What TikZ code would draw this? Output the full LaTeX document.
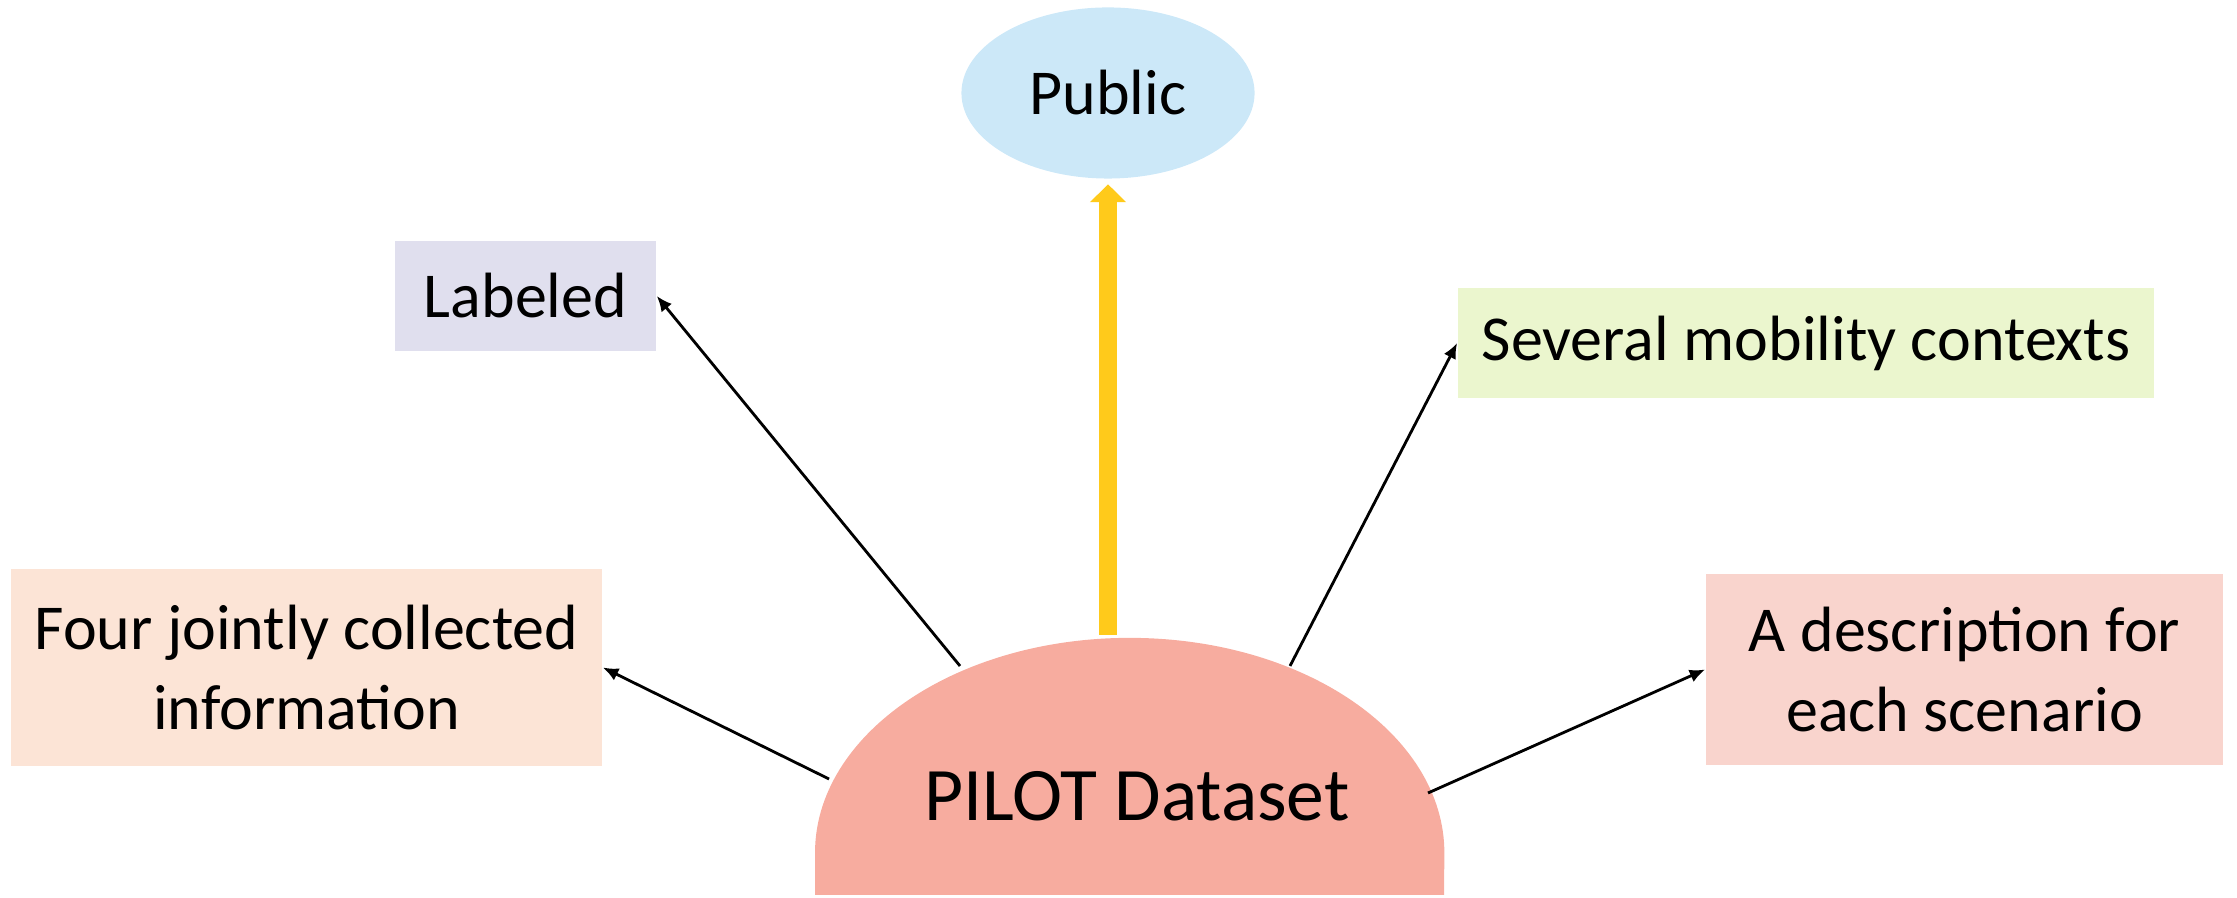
\documentclass[tikz,border=0pt]{standalone}
\usepackage{fontspec}
\setmainfont{Carlito}
\usetikzlibrary{arrows.meta,shapes.geometric,positioning}
\definecolor{plPublic}{HTML}{CCE8F8}
\definecolor{plLabeled}{HTML}{E0DFEE}
\definecolor{plContext}{HTML}{EBF6CE}
\definecolor{plFour}{HTML}{FCE4D6}
\definecolor{plDesc}{HTML}{F9D4CD}
\definecolor{plDome}{HTML}{F7AC9F}
\definecolor{plYellow}{HTML}{FFCA1B}
\tikzset{
    infobox/.style={rectangle, inner sep=0pt, align=center, font=\fontsize{18.2}{22.7}\selectfont},
    pubnode/.style={ellipse, inner sep=0pt, fill=plPublic, minimum width=2.93cm, minimum height=1.71cm, font=\fontsize{18.2}{22.7}\selectfont},
    link/.style={-{Latex[length=4.4pt,width=3.8pt]}, line width=0.8pt, black},
    pubarrow/.style={-{Triangle[length=0.18cm,width=0.35cm]}, line width=0.18cm, plYellow}
}

\begin{document}
\begin{tikzpicture}[x=0.01cm, y=0.01cm]

    \useasboundingbox (0,0) rectangle (2237,898);

    % Dataset dome
    \fill[plDome] (815,3) -- (815,45) arc[start angle=180, end angle=0, x radius=3.145cm, y radius=2.15cm] -- (1444,3) -- cycle;
    \node[font=\fontsize{21.5}{26}\selectfont] (pilot) at (1137,102) {PILOT Dataset};

    \coordinate (fromlab) at (960,232);
    \coordinate (fromctx) at (1290,232);
    \coordinate (fromfour) at (829,119);
    \coordinate (fromdesc) at (1428,105);
    \coordinate (frompub) at (1108,263);

    % Nodes
    \node[pubnode] (public) at (1108,805) {Public};
    \node[infobox, fill=plLabeled, minimum width=2.61cm, minimum height=1.10cm] (labeled) at (525.5,602) {Labeled};
    \node[infobox, fill=plContext, minimum width=6.96cm, minimum height=1.10cm] (context) at (1806,555) {Several mobility contexts};
    \node[infobox, fill=plFour, minimum width=5.91cm, minimum height=1.97cm] (four) at (306.5,230.5) {Four jointly collected\\information};
    \node[infobox, fill=plDesc, minimum width=5.17cm, minimum height=1.91cm] (desc) at (1964.5,228.5) {A description for\\each scenario};

    % Arrows
    \draw[pubarrow, shorten >=0.05cm] (frompub) -- (public.south);
    \draw[link] (fromlab) -- (labeled.east);
    \draw[link] (fromctx) -- (context.west);
    \draw[link] (fromfour) -- (four.east);
    \draw[link] (fromdesc) -- (desc.west);

\end{tikzpicture}
\end{document}
